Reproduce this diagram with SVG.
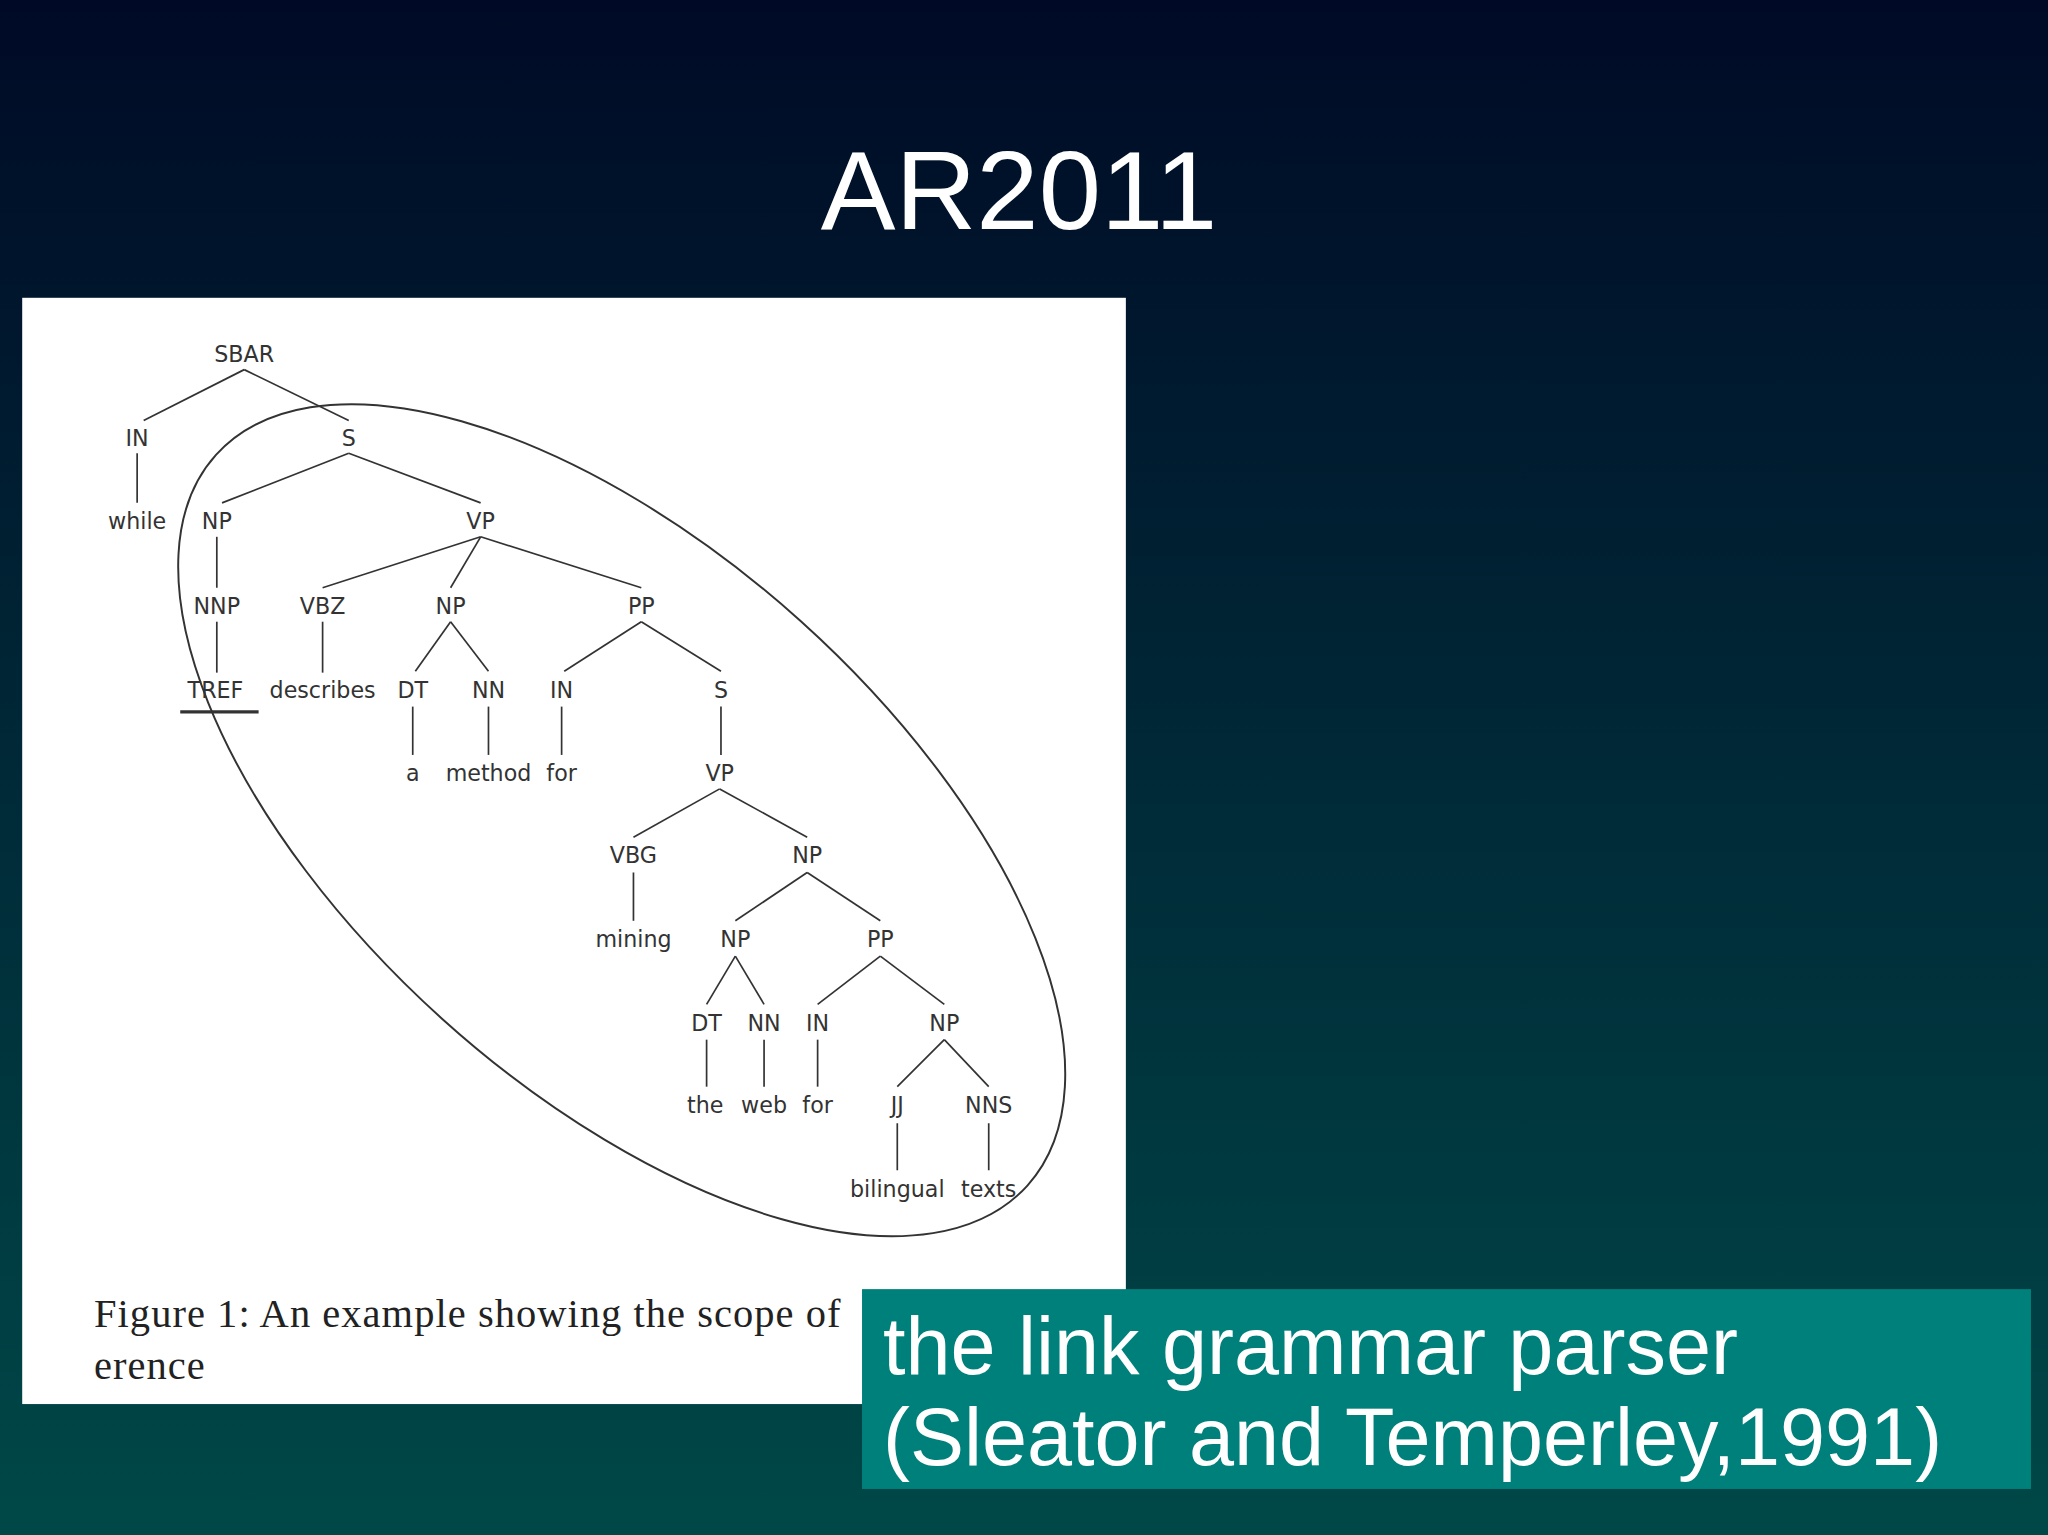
<svg xmlns="http://www.w3.org/2000/svg" width="2048" height="1535" viewBox="0 0 2048 1535">
<defs>
<linearGradient id="bg" x1="0" y1="0" x2="0" y2="1">
<stop offset="0" stop-color="#000a26"/><stop offset="1" stop-color="#004848"/>
</linearGradient>
<style>
.t{font-family:"DejaVu Sans",sans-serif;font-size:17px;fill:#333;text-anchor:middle;dominant-baseline:central}
#edges line{stroke:#333;stroke-width:1.3}
</style>
</defs>
<rect width="2048" height="1535" fill="url(#bg)"/>
<text x="1019" y="229" font-family="Liberation Sans,Arial,sans-serif" font-size="112" fill="#fff" text-anchor="middle">AR2011</text>
<g transform="scale(1.3061)">
<rect x="17" y="228" width="845" height="847" fill="#fff"/>
<g id="edges">
<line x1="187" y1="283" x2="110" y2="322"/><line x1="187" y1="283" x2="267" y2="322"/>
<line x1="105" y1="347" x2="105" y2="385"/>
<line x1="267" y1="347" x2="170" y2="385"/><line x1="267" y1="347" x2="368" y2="385"/>
<line x1="166" y1="411" x2="166" y2="450"/>
<line x1="368" y1="411" x2="247" y2="450"/><line x1="368" y1="411" x2="345" y2="450"/><line x1="368" y1="411" x2="491" y2="450"/>
<line x1="166" y1="476" x2="166" y2="515"/><line x1="247" y1="476" x2="247" y2="515"/>
<line x1="345" y1="476" x2="318" y2="514"/><line x1="345" y1="476" x2="374" y2="514"/>
<line x1="491" y1="476" x2="432" y2="514"/><line x1="491" y1="476" x2="552" y2="514"/>
<line x1="316" y1="541" x2="316" y2="578"/><line x1="374" y1="541" x2="374" y2="578"/><line x1="430" y1="541" x2="430" y2="578"/><line x1="552" y1="541" x2="552" y2="578"/>
<line x1="551" y1="604" x2="485" y2="641"/><line x1="551" y1="604" x2="618" y2="641"/>
<line x1="485" y1="668" x2="485" y2="705"/>
<line x1="618" y1="668" x2="563" y2="705"/><line x1="618" y1="668" x2="674" y2="705"/>
<line x1="563" y1="732" x2="541" y2="769"/><line x1="563" y1="732" x2="585" y2="769"/>
<line x1="674" y1="732" x2="626" y2="769"/><line x1="674" y1="732" x2="723" y2="769"/>
<line x1="541" y1="796" x2="541" y2="832"/><line x1="585" y1="796" x2="585" y2="832"/><line x1="626" y1="796" x2="626" y2="832"/>
<line x1="723" y1="796" x2="687" y2="832"/><line x1="723" y1="796" x2="757" y2="832"/>
<line x1="687" y1="860" x2="687" y2="896"/><line x1="757" y1="860" x2="757" y2="896"/>
<line x1="138" y1="545" x2="198" y2="545" style="stroke-width:2.5"/>
<ellipse cx="476" cy="628" rx="418" ry="205" transform="rotate(42 476 628)" fill="none" stroke="#333" stroke-width="1.5"/>
</g>
<g id="n1"><text class="t" x="187" y="271">SBAR</text></g>
<g id="n2"><text class="t" x="105" y="335">IN</text></g>
<g id="n3"><text class="t" x="267" y="335">S</text></g>
<g id="n4"><text class="t" x="105" y="399">while</text></g>
<g id="n5"><text class="t" x="166" y="399">NP</text></g>
<g id="n6"><text class="t" x="368" y="399">VP</text></g>
<g id="n7"><text class="t" x="166" y="464">NNP</text></g>
<g id="n8"><text class="t" x="247" y="464">VBZ</text></g>
<g id="n9"><text class="t" x="345" y="464">NP</text></g>
<g id="n10"><text class="t" x="491" y="464">PP</text></g>
<g id="n11"><text class="t" x="165" y="528">TREF</text></g>
<g id="n12"><text class="t" x="247" y="528">describes</text></g>
<g id="n13"><text class="t" x="316" y="528">DT</text></g>
<g id="n14"><text class="t" x="374" y="528">NN</text></g>
<g id="n15"><text class="t" x="430" y="528">IN</text></g>
<g id="n16"><text class="t" x="552" y="528">S</text></g>
<g id="n17"><text class="t" x="316" y="592">a</text></g>
<g id="n18"><text class="t" x="374" y="592">method</text></g>
<g id="n19"><text class="t" x="430" y="592">for</text></g>
<g id="n20"><text class="t" x="551" y="592">VP</text></g>
<g id="n21"><text class="t" x="485" y="655">VBG</text></g>
<g id="n22"><text class="t" x="618" y="655">NP</text></g>
<g id="n23"><text class="t" x="485" y="719">mining</text></g>
<g id="n24"><text class="t" x="563" y="719">NP</text></g>
<g id="n25"><text class="t" x="674" y="719">PP</text></g>
<g id="n26"><text class="t" x="541" y="783">DT</text></g>
<g id="n27"><text class="t" x="585" y="783">NN</text></g>
<g id="n28"><text class="t" x="626" y="783">IN</text></g>
<g id="n29"><text class="t" x="723" y="783">NP</text></g>
<g id="n30"><text class="t" x="540" y="846">the</text></g>
<g id="n31"><text class="t" x="585" y="846">web</text></g>
<g id="n32"><text class="t" x="626" y="846">for</text></g>
<g id="n33"><text class="t" x="687" y="846">JJ</text></g>
<g id="n34"><text class="t" x="757" y="846">NNS</text></g>
<g id="n35"><text class="t" x="687" y="910">bilingual</text></g>
<g id="n36"><text class="t" x="757" y="910">texts</text></g>
<text x="72" y="1016" font-family="Liberation Serif,serif" font-size="31" letter-spacing="0.8" fill="#222">Figure 1:  An example showing the scope of</text>
<text x="72" y="1056" font-family="Liberation Serif,serif" font-size="31" letter-spacing="0.8" fill="#222">erence</text>
<rect x="660" y="987" width="895" height="153" fill="#00807a"/>
<text font-family="Liberation Sans,Arial,sans-serif" font-size="62" fill="#fff"><tspan x="676" y="1052">the link grammar parser</tspan><tspan x="676" y="1122">(Sleator and Temperley,1991)</tspan></text>
</g>
</svg>
